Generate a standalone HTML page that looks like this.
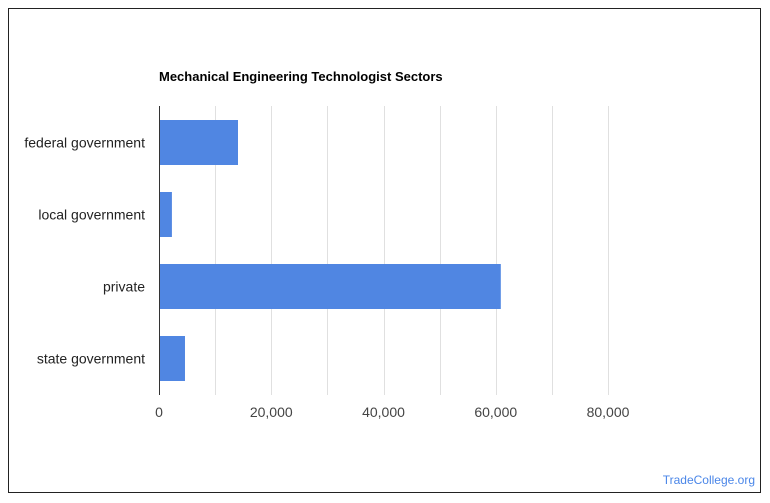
<!DOCTYPE html>
<html><head><meta charset="utf-8"><style>
body{margin:0;background:#fff;font-family:"Liberation Sans",Arial,sans-serif;}
#frame{position:absolute;left:8px;top:8px;width:753px;height:485px;border:1px solid #222;box-sizing:border-box;}
</style></head><body>
<div id="frame"></div>
<svg id="chart" width="770" height="503" style="position:absolute;left:0;top:0">
<text x="159" y="81" font-size="13" font-weight="bold" fill="#000">Mechanical Engineering Technologist Sectors</text>
<g id="grid"></g><g id="bars"></g><g id="labels"></g>
<line x1="159.5" y1="106" x2="159.5" y2="395" stroke="#333" stroke-width="1"/>
<text x="755" y="484" font-size="12" fill="#4a86e8" text-anchor="end">TradeCollege.org</text>
</svg>
<script>
const categories=["federal government","local government","private","state government"];
const values=[14075,2300,60900,4630];
const ticks=[0,20000,40000,60000,80000];
const tickLabels=["0","20,000","40,000","60,000","80,000"];
const gridValues=[10000,20000,30000,40000,50000,60000,70000,80000];
const NS="http://www.w3.org/2000/svg";
const x0=159,x1=608,vmax=80000,plotTop=106,band=72;
const xs=v=>x0+(x1-x0)*v/vmax;
const grid=document.getElementById('grid'),bars=document.getElementById('bars'),labels=document.getElementById('labels');
function mk(tag,attrs,parent,text){const e=document.createElementNS(NS,tag);for(const k in attrs)e.setAttribute(k,attrs[k]);if(text!==undefined)e.textContent=text;parent.appendChild(e);return e;}
gridValues.forEach(v=>{
 const l=mk('line',{x1:Math.round(xs(v))+0.5,x2:Math.round(xs(v))+0.5,y1:plotTop,y2:395,stroke:'#e0e0e0'},grid);
 
 
});
ticks.forEach((v,i)=>{
 const t=mk('text',{x:xs(v),y:417,'font-size':14,fill:'#444','text-anchor':'middle'},labels,tickLabels[i]);
 
 
});
categories.forEach((c,i)=>{
 const yc=plotTop+band*i+band/2+0.5;
 const r=mk('rect',{x:x0,y:yc-22.5,width:xs(values[i])-x0,height:45,fill:'#5086e2'},bars);
 
 
 const t=mk('text',{x:145,y:yc+5,'font-size':14,fill:'#222','text-anchor':'end'},labels,c);
 
 
});
</script>
</body></html>
